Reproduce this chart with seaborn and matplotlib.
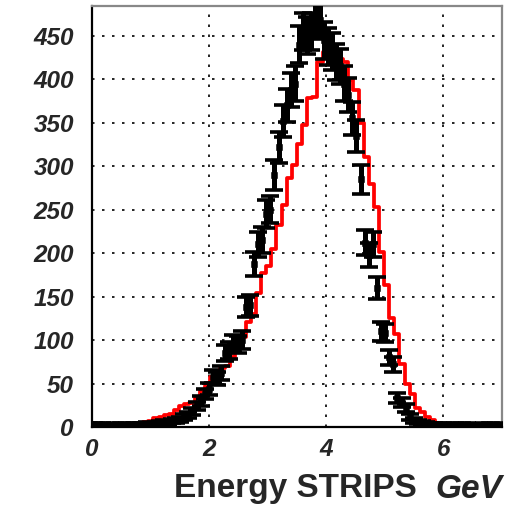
import numpy as np
import pandas as pd
import matplotlib
matplotlib.use("Agg")
import matplotlib.pyplot as plt
import seaborn as sns

# ---- data ----
# measured data (black points), 100 bins from 0 to 7 GeV
data_counts = [3, 2, 3, 2, 2, 3, 2, 2, 3, 2, 3, 2, 3, 4, 3, 4,
               5, 6, 5, 7, 8, 9, 12, 14, 18, 24, 30, 38, 44, 58,
               56, 62, 85, 88, 96, 95, 100, 138, 140, 188, 210, 215, 245, 250,
               290, 322, 352, 370, 388, 395, 440, 455, 450, 455, 470, 468,
               445, 438, 432, 420, 415, 395, 382, 355, 335, 285, 212, 198,
               210, 160, 110, 108, 80, 72, 33, 28, 22, 12, 8, 6, 5,
               4, 3, 3, 2, 3, 2, 2, 3, 2, 2, 3, 2, 2, 2, 3, 2, 2, 3, 2]
data_lo, data_hi, data_nbins = 0.0, 7.0, 100

# simulation (red histogram), 80 bins from 0 to 7 GeV
sim_counts = [0, 1, 0, 1, 2, 2, 3, 3, 4, 5, 6, 7, 10, 11, 14, 15, 19, 24, 26, 28,
              33, 41, 47, 58, 64, 68, 70, 80, 95, 104, 121, 130, 154, 177, 185, 205,
              232, 255, 286, 302, 326, 348, 378, 380, 420, 432, 424, 424, 424, 420,
              399, 388, 350, 311, 280, 253, 201, 163, 125, 107, 72, 50, 38, 22, 17,
              12, 8, 5, 3, 2, 1, 1, 0, 1, 0, 0, 1, 0, 0, 0]
sim_lo, sim_hi, sim_nbins = 0.0, 7.0, 80

y_ticks = [0, 50, 100, 150, 200, 250, 300, 350, 400, 450]
x_ticks = [0, 2, 4, 6]
x_title = "Energy STRIPS"
x_unit = "GeV"

# ---- build tables ----
d_edges = np.linspace(data_lo, data_hi, data_nbins + 1)
d_centers = 0.5 * (d_edges[:-1] + d_edges[1:])
df_data = pd.DataFrame({"E": d_centers, "N": np.array(data_counts, float)})
df_data["err"] = np.sqrt(df_data["N"])

s_edges = np.linspace(sim_lo, sim_hi, sim_nbins + 1)
s_centers = 0.5 * (s_edges[:-1] + s_edges[1:])
df_sim = pd.DataFrame({"E": s_centers, "N": np.array(sim_counts, float)})

# ---- figure ----
sns.set_style("white")
plt.rcParams["font.family"] = ["Liberation Sans", "DejaVu Sans"]

fig = plt.figure(figsize=(5.22, 5.09), dpi=100)
ax = fig.add_axes([92 / 522, 1 - 427 / 509, 410 / 522, 421.5 / 509])

sns.histplot(data=df_sim, x="E", weights="N", bins=sim_nbins,
             binrange=(sim_lo, sim_hi), element="step",
             fill=False, color="#ff0000", linewidth=2.7, ax=ax)

ax.errorbar(df_data["E"], df_data["N"], yerr=df_data["err"], fmt="none",
            ecolor="black", elinewidth=3.6, capsize=6.5, capthick=2.6, zorder=4)
sns.scatterplot(data=df_data, x="E", y="N", marker="s", s=22, color="black",
                edgecolor="black", ax=ax, zorder=5)

ax.set_xlim(data_lo, data_hi)
ax.set_ylim(0, 485)
ax.set_xlabel("")
ax.set_ylabel("")

ax.set_xticks(x_ticks)
ax.set_xticks(np.arange(0, 7.01, 0.5), minor=True)
ax.set_yticks(y_ticks)
ax.set_yticks(np.arange(0, 485, 25), minor=True)
ax.set_xticklabels([str(t) for t in x_ticks])
ax.set_yticklabels([str(t) for t in y_ticks])

for lab in ax.get_xticklabels() + ax.get_yticklabels():
    lab.set_fontsize(17.5)
    lab.set_fontweight("bold")
    lab.set_fontstyle("italic")

ax.tick_params(axis="both", which="major", direction="in", length=9, width=1.2,
               color="black")
ax.tick_params(axis="both", which="minor", direction="in", length=6, width=1.0,
               color="black")
ax.tick_params(axis="x", which="both", top=False, pad=8)
ax.tick_params(axis="y", which="both", right=False, pad=13)

ax.grid(True, which="major", color="black", linestyle=(0, (1.5, 4.5)),
        linewidth=1.2)

for side in ["left", "bottom"]:
    ax.spines[side].set_color("black")
    ax.spines[side].set_linewidth(1.6)
for side in ["top", "right"]:
    ax.spines[side].set_color("#888888")
    ax.spines[side].set_linewidth(1.6)

fig.text(417 / 522, 1 - 489 / 509, x_title, ha="right", va="center",
         fontsize=24, fontweight="bold")
fig.text(502 / 522, 1 - 489 / 509, x_unit, ha="right", va="center",
         fontsize=24, fontweight="bold", fontstyle="italic")

fig.savefig("out.png", dpi=100)
